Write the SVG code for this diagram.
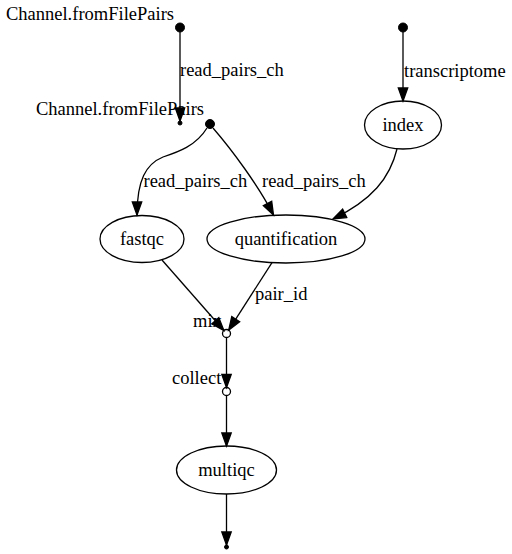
<svg xmlns="http://www.w3.org/2000/svg" width="512" height="554" viewBox="0 0 512 554">
<style>
text{font-family:"Liberation Serif","Times New Roman",serif;font-size:18.5px;fill:#000}
.n{fill:#fff;stroke:#000;stroke-width:1.3}
.pt{fill:#000;stroke:#000;stroke-width:1}
.e{fill:none;stroke:#000;stroke-width:1.3;marker-end:url(#arr)}
.c{text-anchor:middle}
.r{text-anchor:end}
</style>
<defs>
<marker id="arr" markerUnits="userSpaceOnUse" markerWidth="14" markerHeight="10" refX="13" refY="4.7" orient="auto" overflow="visible">
<path d="M0,0 L13,4.7 L0,9.4 z" fill="#000" stroke="#000" stroke-width="1.3"/>
</marker>
</defs>
<g id="p1"><circle class="pt" cx="180" cy="27.5" r="4.5"/><text class="r" x="174" y="19.5">Channel.fromFilePairs</text></g>
<g id="p2"><circle class="pt" cx="180" cy="123" r="2"/><text class="r" x="204" y="115">Channel.fromFilePairs</text></g>
<g id="p3"><circle class="pt" cx="210" cy="124" r="4.5"/></g>
<g id="p4"><circle class="pt" cx="403" cy="27.5" r="4.5"/></g>
<g id="index"><ellipse class="n" cx="403" cy="125" rx="38.5" ry="24"/><text class="c" x="403" y="130.5">index</text></g>
<g id="fastqc"><ellipse class="n" cx="142" cy="239" rx="42" ry="23.5"/><text class="c" x="142" y="245">fastqc</text></g>
<g id="quantification"><ellipse class="n" cx="286" cy="239" rx="79" ry="24"/><text class="c" x="286" y="245">quantification</text></g>
<g id="mix"><text x="193" y="326.5">mix</text><circle class="n" cx="226.5" cy="333.5" r="4"/></g>
<g id="collect"><text x="172" y="384">collect</text><circle class="n" cx="226.5" cy="391.5" r="4"/></g>
<g id="multiqc"><ellipse class="n" cx="226.5" cy="470" rx="50" ry="24"/><text class="c" x="226.5" y="476">multiqc</text></g>
<g id="p5"><circle class="pt" cx="226.5" cy="547" r="2"/></g>
<g id="connectors">
<path class="e" d="M180,32 L180,121"/>
<text x="180" y="76">read_pairs_ch</text>
<path class="e" d="M403,32 L403,101"/>
<text x="404" y="76.5">transcriptome</text>
<path class="e" d="M207,128 C196,146 178,152 163,157 C146,164 137,180 137,215"/>
<text x="143.5" y="187">read_pairs_ch</text>
<path class="e" d="M213,128 C232,150 258,185 273.5,215"/>
<text x="262" y="187">read_pairs_ch</text>
<path class="e" d="M397,149 C390,178 372,200 333,219"/>
<path class="e" d="M162,260 L223.9,330.5"/>
<path class="e" d="M272,262.6 L228.7,330.1"/>
<text x="255" y="300">pair_id</text>
<path class="e" d="M226.5,337.5 L226.5,387.5"/>
<path class="e" d="M226.5,395.5 L226.5,446"/>
<path class="e" d="M226.5,494 L226.5,545"/>
</g>
</svg>
